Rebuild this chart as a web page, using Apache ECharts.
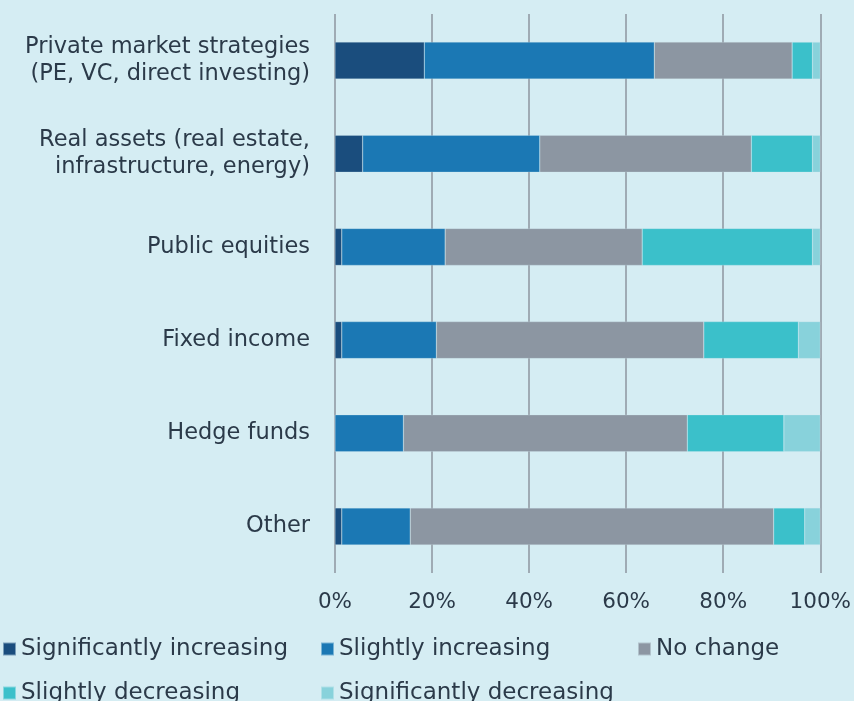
<!DOCTYPE html>
<html>
<head>
<meta charset="utf-8">
<script src="https://cdn.jsdelivr.net/npm/echarts@6/dist/echarts.min.js"></script>
<style>
  html, body { margin: 0; padding: 0; background: #d5edf3; }
  #chart { width: 854px; height: 701px; }
</style>
</head>
<body>
<div id="chart"></div>
<script>
// categories, top to bottom
var categories = [
  'Private market strategies\n(PE, VC, direct investing)',
  'Real assets (real estate,\ninfrastructure, energy)',
  'Public equities',
  'Fixed income',
  'Hedge funds',
  'Other'
];
var sigIncreasing   = [18.4, 5.7, 1.4, 1.4, 0, 1.4];
var slIncreasing    = [47.4, 36.5, 21.3, 19.5, 14.1, 14.1];
var noChange        = [28.4, 43.6, 40.6, 55.1, 58.5, 74.9];
var slDecreasing    = [4.2, 12.6, 35.1, 19.5, 19.9, 6.4];
var sigDecreasing   = [1.6, 1.6, 1.6, 4.5, 7.5, 3.2];
var xTicks = [0, 20, 40, 60, 80, 100];

var font = 'DejaVu Sans';
var textColor = '#2b3a49';

var chart = echarts.init(document.getElementById('chart'));

function bar(name, data, color) {
  return {
    name: name,
    type: 'bar',
    stack: 'total',
    data: data,
    barWidth: 37,
    itemStyle: { color: color, borderColor: 'rgba(213,237,243,0.5)', borderWidth: 0.5 }
  };
}

chart.setOption({
  backgroundColor: '#d5edf3',
  animation: false,
  grid: { left: 335, right: 31, top: 14, bottom: 128 },
  legend: {
    left: 2,
    top: 632,
    width: 820,
    padding: 0,
    itemWidth: 13,
    itemHeight: 13,
    itemGap: 10,
    icon: 'rect',
    textStyle: { fontFamily: font, fontSize: 23, color: textColor, lineHeight: 34 },
    data: [
      { name: 'Significantly increasing', textStyle: { width: 289 } },
      { name: 'Slightly increasing', textStyle: { width: 288 } },
      { name: 'No change', textStyle: { width: 140 } },
      { name: 'Slightly decreasing', textStyle: { width: 289 } },
      { name: 'Significantly decreasing', textStyle: { width: 288 } }
    ]
  },
  xAxis: {
    type: 'value',
    min: xTicks[0],
    max: xTicks[xTicks.length - 1],
    interval: 20,
    axisLine: { show: false },
    axisTick: { show: false },
    axisLabel: {
      formatter: '{value}%',
      fontFamily: font,
      fontSize: 21.5,
      color: textColor,
      margin: 18
    },
    splitLine: { show: true, lineStyle: { color: '#8c959f', width: 1.5 } }
  },
  yAxis: {
    type: 'category',
    inverse: true,
    data: categories,
    axisLine: { show: false },
    axisTick: { show: false },
    axisLabel: {
      fontFamily: font,
      fontSize: 22.5,
      lineHeight: 27,
      color: textColor,
      align: 'right',
      margin: 25
    }
  },
  series: [
    bar('Significantly increasing', sigIncreasing, '#1a4d7d'),
    bar('Slightly increasing', slIncreasing, '#1b78b4'),
    bar('No change', noChange, '#8c96a2'),
    bar('Slightly decreasing', slDecreasing, '#3bc0ca'),
    bar('Significantly decreasing', sigDecreasing, '#88d2db')
  ]
});
</script>
</body>
</html>
